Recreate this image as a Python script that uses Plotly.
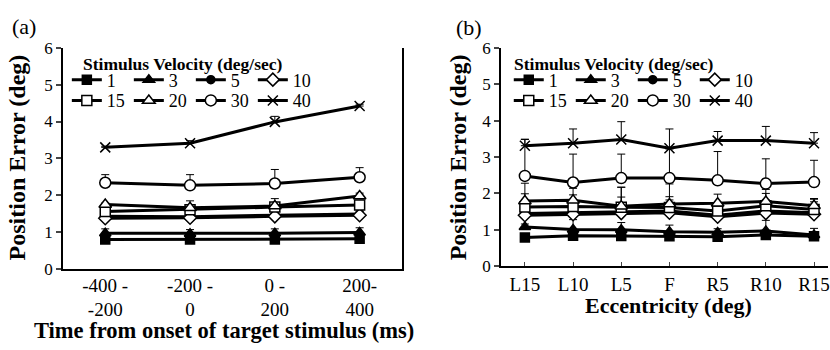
import plotly.graph_objects as go

# Categories
time_bins = ["-400 -<br>-200", "-200 -<br>0", "0 -<br>200", "200-<br>400"]
eccentricity = ["L15", "L10", "L5", "F", "R5", "R10", "R15"]
velocities = ["1", "3", "5", "10", "15", "20", "30", "40"]

# (a) position error vs time window, one list per stimulus velocity
err_time = {
    "1":  [0.80, 0.80, 0.80, 0.82],
    "3":  [0.97, 0.96, 0.97, 0.99],
    "5":  [1.43, 1.42, 1.46, 1.49],
    "10": [1.38, 1.39, 1.43, 1.46],
    "15": [1.56, 1.61, 1.68, 1.74],
    "20": [1.75, 1.66, 1.71, 1.98],
    "30": [2.34, 2.27, 2.32, 2.49],
    "40": [3.30, 3.41, 3.99, 4.42],
}
sd_time = {
    "1":  [0.04, 0.04, 0.04, 0.04],
    "3":  [0.12, 0.11, 0.12, 0.13],
    "5":  [0.06, 0.08, 0.07, 0.08],
    "10": [0.05, 0.05, 0.05, 0.05],
    "15": [0.08, 0.10, 0.10, 0.08],
    "20": [0.04, 0.19, 0.20, 0.08],
    "30": [0.22, 0.29, 0.38, 0.26],
    "40": [0.03, 0.07, 0.15, 0.05],
}

# (b) position error vs eccentricity
err_ecc = {
    "1":  [0.79, 0.84, 0.83, 0.82, 0.81, 0.86, 0.82],
    "3":  [1.08, 1.01, 1.00, 0.95, 0.93, 0.97, 0.86],
    "5":  [1.45, 1.47, 1.50, 1.52, 1.40, 1.52, 1.47],
    "10": [1.40, 1.43, 1.46, 1.47, 1.36, 1.46, 1.43],
    "15": [1.63, 1.64, 1.62, 1.61, 1.52, 1.66, 1.56],
    "20": [1.79, 1.81, 1.65, 1.71, 1.73, 1.78, 1.66],
    "30": [2.48, 2.30, 2.42, 2.42, 2.36, 2.27, 2.31],
    "40": [3.31, 3.38, 3.48, 3.24, 3.45, 3.45, 3.38],
}
sd_ecc = {
    "1":  [0.05, 0.06, 0.06, 0.05, 0.05, 0.06, 0.05],
    "3":  [0.08, 0.27, 0.20, 0.18, 0.10, 0.29, 0.18],
    "5":  [0.30, 0.30, 0.40, 0.30, 0.20, 0.30, 0.30],
    "10": [0.10, 0.10, 0.10, 0.10, 0.10, 0.10, 0.10],
    "15": [0.65, 0.50, 0.55, 0.65, 0.20, 0.45, 0.30],
    "20": [0.20, 0.15, 0.52, 0.20, 0.25, 0.22, 0.18],
    "30": [1.00, 0.78, 0.66, 0.80, 0.79, 0.68, 0.60],
    "40": [0.18, 0.39, 0.49, 0.53, 0.25, 0.39, 0.29],
}

FONT = "Liberation Serif, Times New Roman, serif"
W, H = 830, 350

# marker style per velocity: (symbol, size, fill)
marker_style = {
    "1":  ("square", 9, "black"),
    "3":  ("triangle-up", 10, "black"),
    "5":  ("circle", 8, "black"),
    "10": ("diamond", 10, "white"),
    "15": ("square", 10, "white"),
    "20": ("triangle-up", 11, "white"),
    "30": ("circle", 11, "white"),
    "40": ("x-thin", 10, "black"),
}


def px_x(p):
    return p / W


def px_y(p):
    return 1 - p / H


fig = go.Figure()

for panel, (cats, means, sds, xa, ya, legs) in enumerate([
    (time_bins, err_time, sd_time, "x", "y", ("legend", "legend2")),
    (eccentricity, err_ecc, sd_ecc, "x2", "y2", ("legend3", "legend4")),
]):
    for i, v in enumerate(velocities):
        sym, size, fill = marker_style[v]
        fig.add_trace(go.Scatter(
            x=cats, y=means[v], name=v, xaxis=xa, yaxis=ya,
            mode="lines+markers",
            line=dict(color="black", width=3),
            marker=dict(symbol=sym, size=size, color=fill,
                        line=dict(color="black", width=1.5)),
            error_y=dict(type="data", array=sds[v], arrayminus=[0] * len(cats),
                         symmetric=False, color="black", thickness=1, width=4),
            legend=legs[0] if i < 4 else legs[1],
        ))

axis_common = dict(showgrid=False, zeroline=False, showline=True,
                   linecolor="black", linewidth=1.5,
                   tickfont=dict(family=FONT, size=17, color="black"))

fig.update_layout(
    width=W, height=H,
    margin=dict(l=0, r=0, t=0, b=0),
    paper_bgcolor="white", plot_bgcolor="white",
    font=dict(family=FONT, color="black"),
    xaxis=dict(axis_common, domain=[px_x(63), px_x(403)], range=[-0.5, 3.5],
               type="category", ticks="", tickfont=dict(family=FONT, size=19, color="black"),
               ticklabelstandoff=-2, anchor="y"),
    yaxis=dict(axis_common, domain=[px_y(275), px_y(41)], range=[0, 6],
               dtick=1, ticks="outside", ticklen=5, tickwidth=1.5, mirror=True,
               anchor="x"),
    xaxis2=dict(axis_common, domain=[px_x(502), 1.0], range=[-0.5, 6.29],
                type="category", ticks="inside", ticklen=4, tickwidth=1.2,
                tickfont=dict(family=FONT, size=19, color="black"), anchor="y2"),
    yaxis2=dict(axis_common, domain=[px_y(272), px_y(41)], range=[0, 6],
                dtick=1, ticks="outside", ticklen=5, tickwidth=1.5, anchor="x2"),
)

leg_common = dict(orientation="h", xanchor="left", yanchor="middle",
                  bgcolor="rgba(0,0,0,0)", font=dict(family=FONT, size=18, color="black"),
                  entrywidth=17, itemwidth=30, traceorder="normal")
fig.update_layout(
    legend=dict(leg_common, x=px_x(67), y=px_y(75)),
    legend2=dict(leg_common, x=px_x(67), y=px_y(97)),
    legend3=dict(leg_common, x=px_x(510), y=px_y(75)),
    legend4=dict(leg_common, x=px_x(510), y=px_y(97)),
)


def note(text, x, y, size, bold=False, angle=0, xanchor="center"):
    return dict(text=f"<b>{text}</b>" if bold else text,
                x=px_x(x), y=px_y(y), xref="paper", yref="paper",
                xanchor=xanchor, yanchor="middle", textangle=angle,
                showarrow=False, font=dict(family=FONT, size=size, color="black"))


ann = [
    # legend headings
    note("Stimulus Velocity (deg/sec)", 81, 58, 17.5, bold=True, xanchor="left"),
    note("Stimulus Velocity (deg/sec)", 513, 58, 17.5, bold=True, xanchor="left"),
    # panel letters
    note("(a)", 10, 18, 22, xanchor="left"),
    note("(b)", 455, 20, 22, xanchor="left"),
    # axis titles
    note("Time from onset of target stimulus (ms)", 225, 340, 22.5, bold=True),
    note("Eccentricity (deg)", 670, 313, 22, bold=True),
    note("Position Error (deg)", 18, 157, 24, bold=True, angle=-90),
    note("Position Error (deg)", 460, 157, 24, bold=True, angle=-90),
]
fig.update_layout(annotations=ann)

fig.write_html("out.html")
